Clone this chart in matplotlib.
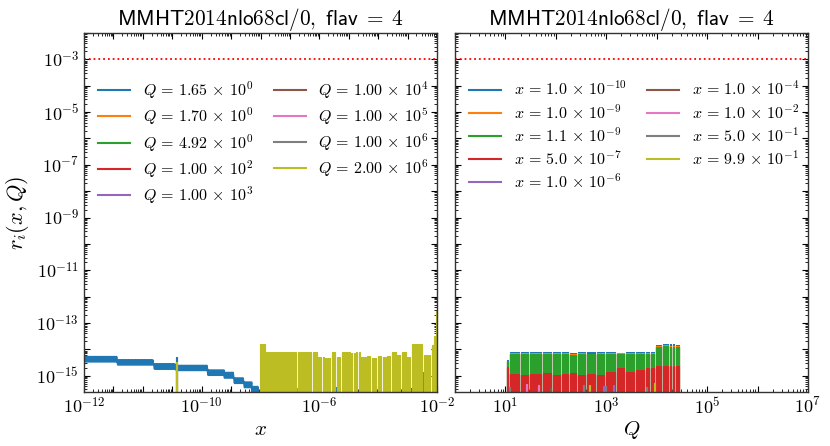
import numpy as np
import matplotlib
matplotlib.use("Agg")
import matplotlib.pyplot as plt
from matplotlib.ticker import FixedLocator, FuncFormatter, LogLocator, NullFormatter

# ---------------- data (values in units of 1e-15 unless stated) ----------------
title_text = r"$\mathsf{MMHT2014nlo68cl/0,\ flav}\;=\;\mathsf{4}$"

q_mant = ["1.65", "1.70", "4.92", "1.00", "1.00", "1.00", "1.00", "1.00", "2.00"]
q_exp = [0, 0, 0, 2, 3, 4, 5, 6, 6]
x_mant = ["1.0", "1.0", "1.1", "5.0", "1.0", "1.0", "1.0", "5.0", "9.9"]
x_exp = [-10, -9, -9, -7, -6, -4, -2, -1, -1]
colors = ["C0", "C1", "C2", "C3", "C4", "C5", "C6", "C7", "C8"]

threshold = 1e-3

# left panel: Q = 1.65 noisy band (log10 x segment edges, upper / lower envelope)
band_edges_lx = [-12.0, -10.87, -9.62, -8.88, -7.8, -7.24, -6.9, -6.56, -6.3, -6.05]
band_hi = [5.2, 3.9, 2.75, 2.4, 1.6, 1.3, 0.8, 0.56, 0.38]
band_lo = [3.4, 2.6, 1.8, 1.6, 1.05, 0.83, 0.52, 0.36, 0.24]

# left panel: Q = 2e6 between x-grid nodes (log10 x node edges, level per interval)
yel_edges_lx = [-6.025, -5.821, -5.447, -5.141, -4.744, -4.494, -4.234, -4.041, -3.814,
                -3.587, -3.417, -3.247, -2.930, -2.760, -2.590, -2.385, -2.227, -2.023,
                -1.853, -1.705, -1.546, -1.365, -1.206, -1.025, -0.866, -0.458, -0.186,
                -0.073, -0.03, 0.0]
yel_levels = [15.0, 7.5, 7.2, 7.5, 7.3, 7.2, 7.0, 4.5, 4.2, 7.0, 4.5, 7.2, 6.5, 7.0,
              4.5, 5.0, 4.2, 5.0, 4.5, 5.0, 7.2, 5.5, 7.0, 4.5, 15.0, 5.5, 13.0, 30.0, 270.0]

# left panel: isolated spikes per Q series (log10 x, value)
q_spike_lx = [
    [-8.85, -5.141, -4.494, -3.417, -2.760, -2.385, -1.365],
    [-8.85, -5.821, -4.744, -4.041],
    [-1.025],
    [-0.866],
    [],
    [],
    [],
    [-0.47],
    [-8.85],
]
q_spike_val = [
    [4.7, 0.32, 0.30, 0.33, 0.30, 0.31, 0.32],
    [2.6, 0.30, 0.32, 0.30],
    [0.35],
    [0.30],
    [],
    [],
    [],
    [1.3],
    [3.0],
]

# right panel: Q-grid node edges (log10 Q) and level per interval for each x series
qn_edges_lq = [1.0, 1.086, 1.297, 1.482, 1.733, 1.937, 2.103, 2.267, 2.432, 2.617, 2.815,
               2.993, 3.211, 3.389, 3.587, 3.785, 3.970, 4.122, 4.254, 4.366, 4.479]
xs_levels = [
    [3.6, 7.2, 7.0, 7.0, 7.2, 7.0, 7.1, 6.8, 7.1, 7.0, 7.2, 7.0, 6.9, 7.1, 7.0, 7.2, 13.0, 14.5, 14.0, 13.0],
    [3.4, 6.8, 6.6, 6.9, 6.5, 6.4, 6.6, 6.2, 6.9, 6.3, 6.8, 6.5, 6.4, 6.6, 6.5, 6.6, 12.0, 13.0, 12.5, 12.0],
    [3.2, 6.2, 6.0, 6.0, 6.1, 6.0, 6.1, 5.8, 6.2, 6.0, 6.1, 6.0, 5.9, 6.1, 6.0, 6.1, 11.0, 12.0, 11.5, 11.0],
    [2.0, 1.1, 1.0, 1.1, 1.2, 1.0, 1.1, 1.2, 1.0, 1.1, 1.0, 1.3, 1.8, 1.3, 1.5, 1.8, 2.1, 2.2, 2.2, 2.1],
]
# right panel: small isolated spikes (log10 Q, value) for the remaining x series
x_spike_lq = [[], [], [], [], [2.95, 3.15], [1.9], [1.43, 1.66], [1.1, 2.55, 3.0, 3.8], [2.68, 3.97]]
x_spike_val = [[], [], [], [], [0.38, 0.42], [0.30], [0.45, 0.40], [0.35, 0.40, 0.38, 0.35], [0.42, 0.48]]

left_xlabels_pos = [1e-12, 1e-8, 1e-4, 1e0]
left_xlabels = [r"$10^{-12}$", r"$10^{-10}$", r"$10^{-6}$", r"$10^{-2}$"]

# ---------------- helpers ----------------
UNIT = 1e-15


def chunk_series(edges, levels, step, pad):
    xs, ys = [], []
    for a, b, lev in zip(edges[:-1], edges[1:], levels):
        lo, hi = a + pad, b - pad
        if hi <= lo:
            pos = [(a + b) / 2.0]
        else:
            n = int(np.floor((hi - lo) / step)) + 1
            pos = np.linspace(lo, hi, n) if n > 1 else [(lo + hi) / 2.0]
        for p in pos:
            xs += [p - 1e-5, p, p + 1e-5]
            ys += [0.0, lev, 0.0]
    return 10 ** np.array(xs), np.array(ys) * UNIT


def spike_series(pos, vals):
    xs, ys = [], []
    for p, v in zip(pos, vals):
        xs += [p - 1e-5, p, p + 1e-5]
        ys += [0.0, v, 0.0]
    return 10 ** np.array(xs), np.array(ys) * UNIT


def band_series(edges, hi, lo, step):
    xs, ys = [], []
    for a, b, h, l in zip(edges[:-1], edges[1:], hi, lo):
        pos = np.arange(a, b, step)
        for k, p in enumerate(pos):
            xs.append(p)
            ys.append(h if k % 2 == 0 else l)
    return 10 ** np.array(xs), np.array(ys) * UNIT


# ---------------- figure ----------------
plt.rcParams["mathtext.fontset"] = "cm"
plt.rcParams["font.family"] = ["DejaVu Sans"]
plt.rcParams["path.simplify"] = False

W, H = 830, 446
fig = plt.figure(figsize=(W / 100, H / 100), dpi=100)
axL = fig.add_axes([84 / W, 1 - 392 / H, 353 / W, 359 / H])
axR = fig.add_axes([455 / W, 1 - 392 / H, 353 / W, 359 / H], sharey=axL)

LW = 1.5
for ax in (axL, axR):
    ax.set_xscale("log")
    ax.set_yscale("log")

# left panel
handlesL = []
for i in range(9):
    first = None
    if i == 0:
        bx, by = band_series(band_edges_lx, band_hi, band_lo, 0.025)
        first, = axL.plot(bx, by, color=colors[i], lw=LW)
    if q_spike_lx[i]:
        sx, sy = spike_series(q_spike_lx[i], q_spike_val[i])
        l, = axL.plot(sx, sy, color=colors[i], lw=LW)
        first = first or l
    if i == 8:
        cx, cy = chunk_series(yel_edges_lx, yel_levels, 0.05, 0.04)
        l, = axL.plot(cx, cy, color=colors[i], lw=LW)
        first = first or l
    if first is None:
        first, = axL.plot([], [], color=colors[i], lw=LW)
    handlesL.append(first)
labelsL = [r"$Q\,=\,%s\,\times\,10^{%d}$" % (m, e) for m, e in zip(q_mant, q_exp)]

# right panel
handlesR = []
for i in range(9):
    first = None
    if i < len(xs_levels):
        cx, cy = chunk_series(qn_edges_lq, xs_levels[i], 0.033, 0.03)
        first, = axR.plot(cx, cy, color=colors[i], lw=LW)
    if x_spike_lq[i]:
        sx, sy = spike_series(x_spike_lq[i], x_spike_val[i])
        l, = axR.plot(sx, sy, color=colors[i], lw=LW)
        first = first or l
    if first is None:
        first, = axR.plot([], [], color=colors[i], lw=LW)
    handlesR.append(first)
labelsR = [r"$x\,=\,%s\,\times\,10^{%d}$" % (m, e) for m, e in zip(x_mant, x_exp)]

for ax in (axL, axR):
    ax.axhline(threshold, color="red", ls=":", lw=1.3)

# limits
axL.set_xlim(1e-12, 1e0)
axR.set_xlim(1e0, 1e7)
axL.set_ylim(2.4e-16, 1e-2)

# y ticks
ydec = [10.0 ** k for k in range(-16, -1)]
axL.yaxis.set_major_locator(FixedLocator(ydec))
axL.yaxis.set_major_formatter(FuncFormatter(
    lambda v, p: (r"$10^{%d}$" % round(np.log10(v))) if round(np.log10(v)) % 2 else ""))
axL.yaxis.set_minor_locator(LogLocator(base=10, subs=np.arange(2, 10), numticks=100))
axL.yaxis.set_minor_formatter(NullFormatter())

# x ticks
xdecL = [10.0 ** k for k in range(-12, 1)]
axL.xaxis.set_major_locator(FixedLocator(xdecL))
lab_map = {round(np.log10(p)): t for p, t in zip(left_xlabels_pos, left_xlabels)}
axL.xaxis.set_major_formatter(FuncFormatter(lambda v, p: lab_map.get(round(np.log10(v)), "")))
xdecR = [10.0 ** k for k in range(0, 8)]
axR.xaxis.set_major_locator(FixedLocator(xdecR))
axR.xaxis.set_major_formatter(FuncFormatter(
    lambda v, p: (r"$10^{%d}$" % round(np.log10(v))) if round(np.log10(v)) % 2 else ""))
for ax in (axL, axR):
    ax.xaxis.set_minor_locator(LogLocator(base=10, subs=np.arange(2, 10), numticks=100))
    ax.xaxis.set_minor_formatter(NullFormatter())
    ax.tick_params(which="both", direction="in", top=True, right=True, labelsize=13)
    ax.tick_params(which="major", length=4, width=0.8)
    ax.tick_params(which="minor", length=2, width=0.6)
    for s in ax.spines.values():
        s.set_linewidth(1.0)
        s.set_color("0.2")
    ax.set_title(title_text, fontsize=15.3)
axR.tick_params(labelleft=False)

axL.set_xlabel(r"$x$", fontsize=15, labelpad=1)
axR.set_xlabel(r"$Q$", fontsize=15, labelpad=1)
axL.set_ylabel(r"$r_i(x, Q)$", fontsize=16)

legkw = dict(ncol=2, loc="upper left", bbox_to_anchor=(0.017, 0.892), frameon=False,
             fontsize=11.5, borderaxespad=0.1, labelspacing=0.3, columnspacing=1.3)
axL.legend(handlesL, labelsL, **legkw)
axR.legend(handlesR, labelsR, **legkw)

fig.savefig("out.png", dpi=100)
